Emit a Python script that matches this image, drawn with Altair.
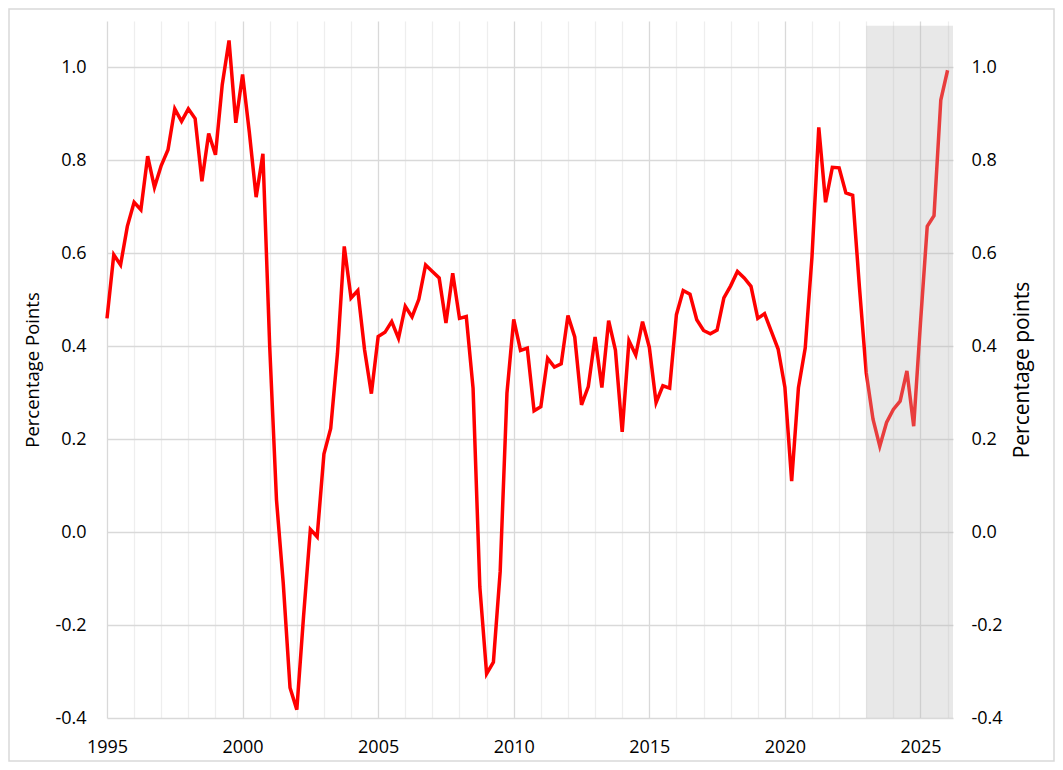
import altair as alt
import pandas as pd

# Quarterly series starting 1995 Q1
start_year = 1995
values = [
    0.46, 0.597, 0.575, 0.658,      # 1995
    0.71, 0.694, 0.809, 0.742,      # 1996
    0.789, 0.823, 0.911, 0.884,     # 1997
    0.911, 0.89, 0.755, 0.858,      # 1998
    0.812, 0.963, 1.058, 0.881,     # 1999
    0.985, 0.86, 0.721, 0.814,      # 2000
    0.40, 0.07, -0.11, -0.335,      # 2001
    -0.382, -0.18, 0.006, -0.01,    # 2002
    0.168, 0.223, 0.385, 0.615,     # 2003
    0.504, 0.52, 0.392, 0.298,      # 2004
    0.421, 0.43, 0.453, 0.417,      # 2005
    0.486, 0.463, 0.501, 0.575,     # 2006
    0.561, 0.547, 0.45, 0.557,      # 2007
    0.46, 0.464, 0.31, -0.118,      # 2008
    -0.305, -0.28, -0.085, 0.299,   # 2009
    0.458, 0.391, 0.396, 0.261,     # 2010
    0.27, 0.374, 0.355, 0.362,      # 2011
    0.466, 0.42, 0.274, 0.313,      # 2012
    0.42, 0.311, 0.455, 0.392,      # 2013
    0.216, 0.412, 0.381, 0.453,     # 2014
    0.398, 0.279, 0.315, 0.31,      # 2015
    0.468, 0.52, 0.512, 0.457,      # 2016
    0.434, 0.427, 0.435, 0.504,     # 2017
    0.53, 0.561, 0.547, 0.529,      # 2018
    0.46, 0.47, 0.432, 0.394,       # 2019
    0.312, 0.11, 0.311, 0.396,      # 2020
    0.593, 0.871, 0.71, 0.785,      # 2021
    0.784, 0.73, 0.725, 0.527,      # 2022
    0.343, 0.243, 0.185, 0.236,     # 2023
    0.264, 0.282, 0.347, 0.228,     # 2024
    0.45, 0.658, 0.681, 0.93,       # 2025
    0.994,                          # 2026
]
quarters = [start_year + i * 0.25 for i in range(len(values))]

year_ticks = list(range(1995, 2027))
y_ticks = [-0.4, -0.2, 0.0, 0.2, 0.4, 0.6, 0.8, 1.0]
x_domain = [1995, 2026.2]
y_domain = [-0.4, 1.1]
shade_start = [2023.0]
shade_end = [2026.2]
shade_top = [1.09]
shade_bottom = [-0.4]

FONT = "Open Sans"
W, H = 846, 697
PAD = {"left": 99, "top": 13, "right": 102, "bottom": 44}

df = pd.DataFrame({"t": quarters, "v": values})
shade_df = pd.DataFrame({"x1": shade_start, "x2": shade_end,
                         "y1": shade_top, "y2": shade_bottom})

label_expr_y = "replace(format(datum.value, '.1f'), '\u2212', '-')"

x_scale = alt.Scale(domain=x_domain, nice=False, zero=False)
y_scale = alt.Scale(domain=y_domain, nice=False, zero=False)

x_axis = alt.Axis(
    values=year_ticks,
    labelExpr="datum.value % 5 === 0 ? '' + datum.value : ''",
    labelFlush=False, labelOverlap=False,
    ticks=False, domain=False, title=None,
    labelFont=FONT, labelFontSize=18, labelColor="#000000", labelPadding=20,
    gridColor={"condition": {"test": "datum.value % 5 === 0", "value": "#d9d9d9"},
               "value": "#eeeeee"},
    gridWidth=1.3,
)

line = alt.Chart(df).mark_line(color="#ff0000", strokeWidth=3.5).encode(
    x=alt.X("t:Q", scale=x_scale, axis=x_axis),
    y=alt.Y("v:Q", scale=y_scale, axis=alt.Axis(
        values=y_ticks, labelExpr=label_expr_y,
        ticks=False, domain=False, gridColor="#d9d9d9", gridWidth=1.3,
        labelFont=FONT, labelFontSize=18, labelColor="#000000", labelPadding=21,
        title="Percentage Points", titleFont=FONT, titleFontSize=18.5,
        titleFontWeight="normal", titleColor="#000000", titlePadding=12,
    )),
)

shade = alt.Chart(shade_df).mark_rect(color="#b8b8b8", opacity=0.33).encode(
    x=alt.X("x1:Q", scale=x_scale, axis=x_axis),
    x2="x2:Q",
    y=alt.Y("y1:Q", scale=y_scale, axis=alt.Axis(
        orient="right", values=y_ticks, labelExpr=label_expr_y,
        ticks=False, domain=False, grid=False,
        labelFont=FONT, labelFontSize=18, labelColor="#000000", labelPadding=18,
        title="Percentage points", titleFont=FONT, titleFontSize=21,
        titleFontWeight="normal", titleColor="#000000", titleAngle=270,
        titlePadding=30,
    )),
    y2="y2:Q",
)

border = alt.Chart(pd.DataFrame({"a": [0]})).mark_rect(
    fill=None, stroke="#d9d9d9", strokeWidth=1.5
).encode(
    x=alt.value(-PAD["left"] + 1),
    x2=alt.value(W + PAD["right"] - 1),
    y=alt.value(-PAD["top"] + 1),
    y2=alt.value(H + PAD["bottom"] - 1),
)

chart = alt.layer(line, shade, border).resolve_axis(y="independent").properties(
    width=W, height=H,
    autosize=alt.AutoSizeParams(type="none"),
    padding=PAD,
    background="#ffffff",
).configure_view(stroke=None)

chart.save("out.html", embed_options={"renderer": "svg", "actions": False})
